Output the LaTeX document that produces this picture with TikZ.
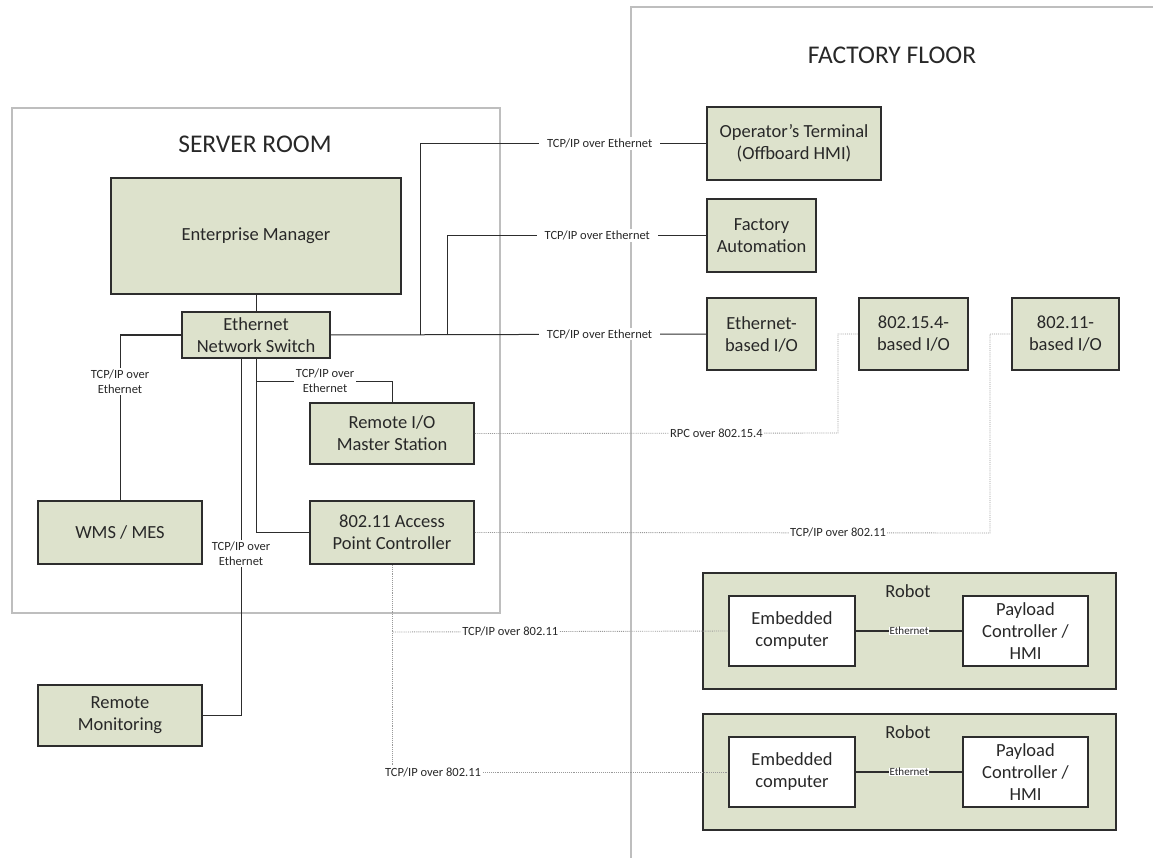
\documentclass[tikz,border=0pt]{standalone}
\usepackage{fontspec}
\setmainfont{Carlito}
\definecolor{boxfill}{RGB}{221,226,204}
\definecolor{edge}{RGB}{45,45,45}
\definecolor{region}{RGB}{190,190,190}
\definecolor{txt}{RGB}{40,40,40}
\begin{document}
\begin{tikzpicture}[x=1pt,y=-1pt,
  box/.style={draw=edge,line width=1.8pt,fill=boxfill,align=center,inner sep=2pt,
    font=\fontsize{18.5}{22}\selectfont,text=txt},
  wbox/.style={box,fill=white},
  rbox/.style={draw=edge,line width=1.8pt,fill=boxfill},
  title/.style={font=\fontsize{25.5}{30}\selectfont,text=txt},
  lbl/.style={fill=white,inner sep=1.5pt,align=center,font=\fontsize{12.5}{15}\selectfont,text=txt},
  wlbl/.style={lbl,inner xsep=8pt},
  tiny/.style={fill=white,inner sep=0.5pt,font=\fontsize{11}{12}\selectfont,text=txt},
  wire/.style={draw=edge,line width=1pt},
  radio/.style={draw=gray!80,line width=0.9pt,densely dotted},
  zone/.style={draw=region,line width=2.5pt}]
\useasboundingbox (0,0) rectangle (1153,858);
% regions
\draw[zone] (12,108) rectangle (500,613);
\draw[zone] (631,858) -- (631,7) -- (1153,7);
\node[title] (srv) at (255,144) {SERVER ROOM};
\node[title] (fac) at (892,55) {FACTORY FLOOR};
% robots (background)
\node[rbox,minimum width=413pt,minimum height=116pt] (R1) at (909.5,631) {};
\node[rbox,minimum width=413pt,minimum height=116pt] (R2) at (909.5,772) {};
\node[font=\fontsize{18.5}{22}\selectfont,text=txt] (R1t) at (908,591) {Robot};
\node[font=\fontsize{18.5}{22}\selectfont,text=txt] (R2t) at (908,732) {Robot};
% server room boxes
\node[box,minimum width=290pt,minimum height=116pt] (EM) at (256,236) {Enterprise Manager};
\node[box,minimum width=148pt,minimum height=46pt] (SW) at (256,335) {Ethernet\\Network Switch};
\node[box,minimum width=164pt,minimum height=63pt] (WMS) at (120,532.5) {WMS / MES};
\node[box,minimum width=164pt,minimum height=61pt] (RIO) at (392,433.5) {Remote I/O\\Master Station};
\node[box,minimum width=164pt,minimum height=63pt] (AP) at (392,532.5) {802.11 Access\\Point Controller};
\node[box,minimum width=164pt,minimum height=61pt] (RM) at (120,715.5) {Remote\\Monitoring};
% factory floor boxes
\node[box,minimum width=174pt,minimum height=73pt] (OT) at (794,143.5) {Operator's Terminal\\(Offboard HMI)};
\node[box,minimum width=109pt,minimum height=73pt] (FA) at (761.5,235.5) {Factory\\Automation};
\node[box,minimum width=109pt,minimum height=72pt] (EIO) at (761.5,334) {Ethernet-\\based I/O};
\node[box,minimum width=109pt,minimum height=72pt] (ZIO) at (913.5,334) {802.15.4-\\based I/O};
\node[box,minimum width=107pt,minimum height=72pt] (WIO) at (1065.5,334) {802.11-\\based I/O};
\node[wbox,minimum width=126pt,minimum height=70pt] (EC1) at (792,631) {Embedded\\computer};
\node[wbox,minimum width=125pt,minimum height=70pt] (PC1) at (1025.5,631) {Payload\\Controller /\\HMI};
\node[wbox,minimum width=126pt,minimum height=70pt] (EC2) at (792,772) {Embedded\\computer};
\node[wbox,minimum width=125pt,minimum height=70pt] (PC2) at (1025.5,772) {Payload\\Controller /\\HMI};
% junctions
\coordinate (j1) at (420,335);
\coordinate (j2) at (447,335);
\coordinate (j3) at (256,381);
\coordinate (c1) at (838,433);
\coordinate (c2) at (990,533);
\coordinate (c3) at (393,632);
% ethernet wires
\draw[wire] (EM.south) -- (SW.north);
\draw[wire] (SW.east) -- node[wlbl,pos=0.716] {TCP/IP over Ethernet} (EIO.west);
\draw[wire] (j1) |- node[wlbl,pos=0.814] {TCP/IP over Ethernet} (OT.west);
\draw[wire] (j2) |- node[wlbl,pos=0.79] {TCP/IP over Ethernet} (FA.west);
\draw[wire] (SW.west) -| node[lbl,pos=0.64] {TCP/IP over\\Ethernet} (WMS.north);
\draw[wire] ([xshift=-15pt]SW.south) |- node[lbl,pos=0.273] {TCP/IP over\\Ethernet} (RM.east);
\draw[wire] (SW.south) |- (AP.west);
\draw[wire] (j3) -| node[lbl,pos=0.254] {TCP/IP over\\Ethernet} (RIO.north);
% radio links
\draw[radio] (RIO.east) -- node[lbl,pos=0.665,inner sep=1pt] {RPC over 802.15.4} (c1) |- (ZIO.west);
\draw[radio] (AP.east) -- node[lbl,pos=0.705,inner sep=1pt] {TCP/IP over 802.11} (c2) |- (WIO.west);
\draw[radio] (AP.south) |- node[lbl,pos=0.561,inner sep=1pt] {TCP/IP over 802.11} (EC2.west);
\draw[radio] (c3) -- node[lbl,pos=0.35,inner sep=1pt] {TCP/IP over 802.11} (EC1.west);
% robot internal
\draw[wire,line width=1.4pt] (EC1.east) -- node[tiny] {Ethernet} (PC1.west);
\draw[wire,line width=1.4pt] (EC2.east) -- node[tiny] {Ethernet} (PC2.west);
\end{tikzpicture}
\end{document}
